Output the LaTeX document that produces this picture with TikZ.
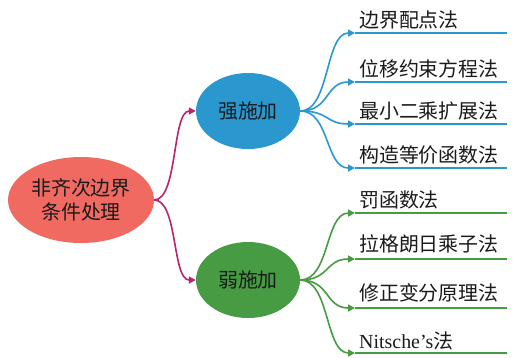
\documentclass[tikz,border=0pt]{standalone}
\usepackage{fontspec}
\setmainfont{Liberation Serif}
\newfontfamily\cjk{Noto Sans CJK SC}
\usetikzlibrary{shapes.geometric,arrows.meta}
\definecolor{rootc}{HTML}{F06A62}
\definecolor{bluec}{HTML}{2A97CF}
\definecolor{greenc}{HTML}{479B43}
\definecolor{magc}{HTML}{B8246E}
\definecolor{txtc}{HTML}{1A1A1A}
\tikzset{
  ell/.style={ellipse,draw=none,text=txtc,font=\cjk\fontsize{20}{24}\selectfont,inner sep=0pt,align=center},
  leaf/.style={anchor=west,inner sep=0pt,text=txtc,font=\cjk\fontsize{20}{22}\selectfont},
  conn/.style={line width=1.6bp,-{Triangle[length=7bp,width=7bp]}},
  uline/.style={line width=1.6bp}
}
\begin{document}
\begin{tikzpicture}[x=1bp,y=-1bp]
\useasboundingbox (0,0) rectangle (519,357);
\node[ell,fill=rootc,minimum width=146bp,minimum height=86bp] (root) at (81,200) {非齐次边界\\条件处理};
\node[ell,fill=bluec,minimum width=104bp,minimum height=76bp] (strong) at (248,111) {强施加};
\node[ell,fill=greenc,minimum width=104bp,minimum height=76bp] (weak) at (248,280) {弱施加};
\draw[conn,magc] (root.east) .. controls (178,200) and (172,111) .. (strong.west);
\draw[conn,magc] (root.east) .. controls (178,200) and (172,280) .. (weak.west);
% strong leaves
\foreach \n/\y/\t in {s1/33/边界配点法, s2/82/位移约束方程法, s3/124/最小二乘扩展法, s4/168/构造等价函数法}{
  \coordinate (\n a) at (355,\y);
  \coordinate (\n b) at (507,\y);
  \node[leaf] (\n) at (359,\y-13) {\t};
  \draw[conn,bluec] (strong.east) .. controls (330,111) and (325,\y) .. (\n a);
  \draw[uline,bluec] (\n a) -- (\n b);
}
% weak leaves
\foreach \n/\y/\d/\t in {w1/213/13/罚函数法, w2/259/15/拉格朗日乘子法, w3/308/15/修正变分原理法}{
  \coordinate (\n a) at (355,\y);
  \coordinate (\n b) at (507,\y);
  \node[leaf] (\n) at (359,\y-\d) {\t};
  \draw[conn,greenc] (weak.east) .. controls (330,280) and (325,\y) .. (\n a);
  \draw[uline,greenc] (\n a) -- (\n b);
}
\coordinate (w4a) at (355,353);
\coordinate (w4b) at (507,353);
\node[leaf] (w4) at (359,341) {{\rmfamily\fontsize{20}{22}\selectfont Nitsche’s}法};
\draw[conn,greenc] (weak.east) .. controls (330,280) and (325,353) .. (w4a);
\draw[uline,greenc] (w4a) -- (w4b);
\end{tikzpicture}
\end{document}
